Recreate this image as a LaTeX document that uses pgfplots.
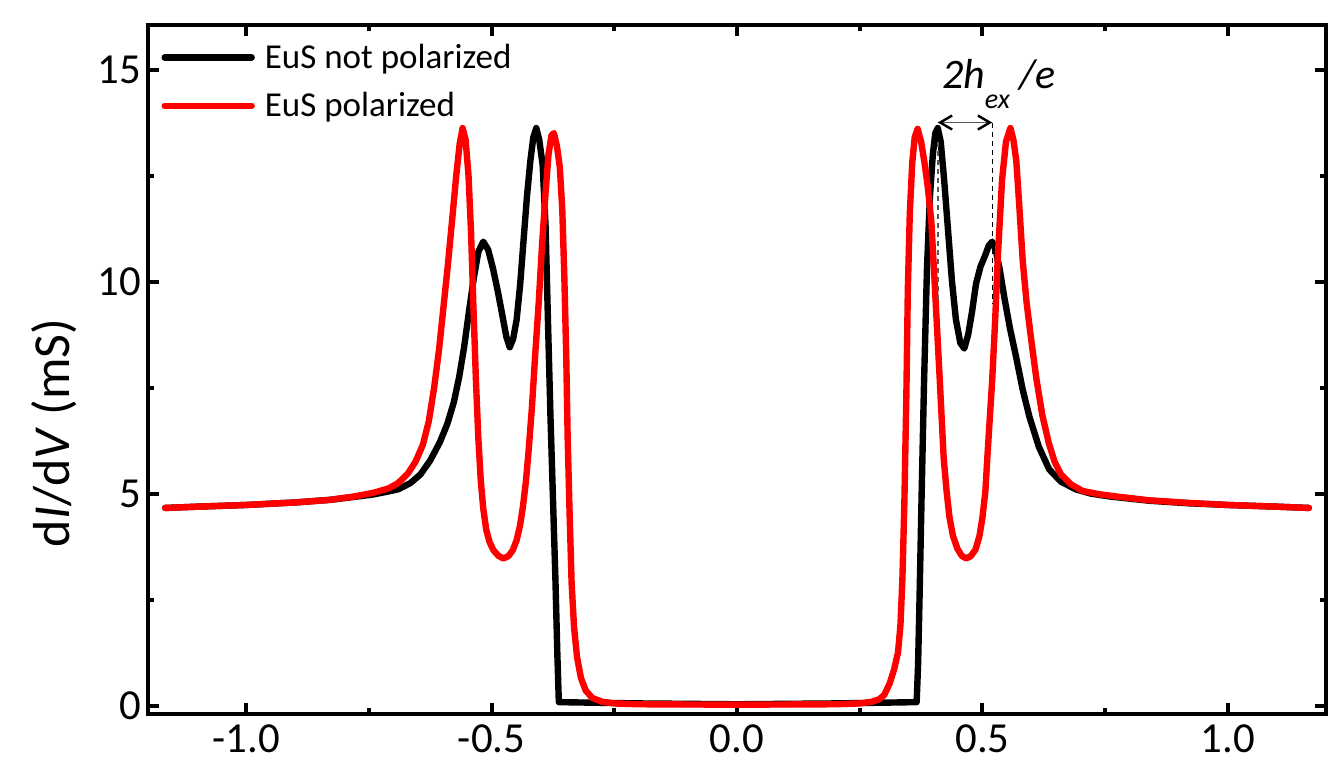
\documentclass[border=0pt]{standalone}
\usepackage{fontspec}
\setmainfont{Carlito}
\usepackage{pgfplots}
\pgfplotsset{compat=1.18}
\usetikzlibrary{arrows.meta}

% dI/dV curves
\pgfplotstableread{
x y
-1.165 4.66
-1.10 4.69
-1.00 4.73
-0.90 4.79
-0.83 4.85
-0.78 4.92
-0.74 4.98
-0.71 5.05
-0.69 5.10
-0.665 5.25
-0.645 5.45
-0.625 5.78
-0.605 6.22
-0.59 6.65
-0.577 7.15
-0.566 7.75
-0.556 8.45
-0.546 9.30
-0.536 10.10
-0.527 10.70
-0.517 10.94
-0.507 10.75
-0.497 10.30
-0.487 9.75
-0.478 9.20
-0.470 8.70
-0.463 8.45
-0.456 8.65
-0.449 9.10
-0.442 9.90
-0.435 10.95
-0.428 12.00
-0.421 12.85
-0.415 13.40
-0.409 13.62
-0.403 13.35
-0.396 12.75
-0.390 11.30
-0.385 9.00
-0.380 6.80
-0.375 4.90
-0.370 3.00
-0.366 1.20
-0.363 0.08
-0.20 0.05
0.00 0.03
0.20 0.05
0.366 0.08
0.369 1.00
0.372 2.60
0.376 4.90
0.381 7.60
0.387 10.30
0.393 12.00
0.399 13.00
0.404 13.50
0.409 13.62
0.415 13.30
0.422 12.40
0.430 11.20
0.438 10.00
0.446 9.10
0.455 8.55
0.463 8.42
0.471 8.75
0.479 9.30
0.487 9.95
0.496 10.35
0.505 10.60
0.513 10.85
0.520 10.94
0.527 10.75
0.535 10.30
0.545 9.60
0.556 8.90
0.569 8.20
0.582 7.45
0.596 6.80
0.615 6.10
0.636 5.57
0.66 5.28
0.69 5.10
0.72 5.00
0.76 4.93
0.84 4.83
0.92 4.77
1.00 4.73
1.10 4.69
1.165 4.66
}\notpol

\pgfplotstableread{
x y
-1.165 4.66
-1.10 4.69
-1.00 4.73
-0.90 4.79
-0.83 4.85
-0.78 4.93
-0.74 5.02
-0.71 5.12
-0.69 5.25
-0.67 5.48
-0.655 5.75
-0.64 6.15
-0.628 6.70
-0.617 7.50
-0.607 8.40
-0.598 9.40
-0.589 10.40
-0.580 11.50
-0.572 12.50
-0.565 13.25
-0.559 13.62
-0.553 13.35
-0.547 12.50
-0.542 11.20
-0.537 9.40
-0.532 7.70
-0.527 6.30
-0.522 5.30
-0.517 4.65
-0.511 4.15
-0.504 3.85
-0.496 3.66
-0.486 3.53
-0.476 3.47
-0.466 3.52
-0.457 3.66
-0.449 3.90
-0.442 4.25
-0.436 4.70
-0.430 5.30
-0.425 5.95
-0.418 7.00
-0.411 8.30
-0.404 9.50
-0.397 10.90
-0.390 12.10
-0.384 13.00
-0.378 13.45
-0.373 13.50
-0.367 13.20
-0.361 12.70
-0.356 11.70
-0.352 10.20
-0.348 8.30
-0.345 6.30
-0.341 4.50
-0.337 2.90
-0.332 1.85
-0.326 1.15
-0.318 0.65
-0.308 0.35
-0.295 0.18
-0.275 0.09
-0.25 0.05
-0.20 0.03
0.00 0.02
0.20 0.03
0.25 0.05
0.275 0.09
0.29 0.15
0.30 0.25
0.311 0.52
0.320 0.85
0.328 1.25
0.333 1.90
0.337 3.00
0.341 4.80
0.345 7.30
0.348 9.80
0.352 11.60
0.357 12.80
0.362 13.40
0.368 13.60
0.375 13.30
0.382 12.80
0.389 12.20
0.396 11.40
0.403 9.90
0.408 8.80
0.413 7.70
0.421 5.85
0.427 5.05
0.433 4.43
0.440 4.00
0.449 3.70
0.458 3.53
0.467 3.47
0.476 3.52
0.486 3.68
0.494 4.00
0.500 4.43
0.506 5.05
0.510 5.85
0.520 7.70
0.526 9.10
0.531 10.50
0.540 12.40
0.548 13.30
0.557 13.62
0.563 13.35
0.569 12.85
0.575 11.80
0.582 10.50
0.590 9.50
0.599 8.66
0.610 7.70
0.622 6.85
0.635 6.20
0.647 5.75
0.660 5.45
0.68 5.22
0.704 5.06
0.74 4.98
0.78 4.92
0.84 4.84
0.92 4.78
1.00 4.73
1.10 4.69
1.165 4.66
}\pol

\begin{document}
\begin{tikzpicture}
\begin{axis}[
  scale only axis,
  width=589pt, height=344.5pt,
  xmin=-1.2, xmax=1.2,
  ymin=-0.2, ymax=16.05,
  xtick={-1,-0.5,0,0.5,1},
  xticklabels={-1.0,-0.5,0.0,0.5,1.0},
  ytick={0,5,10,15},
  yticklabels={0,5,10,15},
  minor x tick num=1,
  minor y tick num=1,
  tick align=inside,
  major tick length=5.5pt,
  minor tick length=3pt,
  axis line style={line width=2pt},
  every tick/.style={line width=2pt, black},
  tick label style={font=\fontsize{21.4}{25}\selectfont},
  xticklabel style={yshift=-2pt},
  ylabel={d\textit{I}/d\textit{V} (mS)},
  ylabel style={font=\fontsize{26}{30}\selectfont, at={(axis description cs:-0.0798,0.408)}, anchor=center},
  legend style={at={(axis description cs:0.006,0.982)}, anchor=north west, draw=none, fill=none,
    font=\fontsize{17.5}{21}\selectfont, row sep=8.5pt,
    nodes={inner sep=1pt},
    /tikz/every odd column/.append style={column sep=4pt}},
  legend cell align=left,
  legend image code/.code={\draw[#1] (0pt,0pt) -- (43.5pt,0pt);},
  every axis plot/.append style={line width=3.2pt, line join=round, line cap=round},
]
\addplot[black] table {\notpol};
\addlegendentry{EuS not polarized}
\addplot[red] table {\pol};
\addlegendentry{EuS polarized}

\draw[gray!70!black, line width=0.75pt, dash pattern=on 2.5pt off 2pt] (axis cs:0.409,13.3) -- (axis cs:0.409,9.5);
\draw[black, line width=0.75pt, dash pattern=on 2.5pt off 2pt] (axis cs:0.52,13.75) -- (axis cs:0.52,9.5);
\draw[gray!70!black, line width=0.9pt, {Straight Barb[length=6pt,width=7pt,line width=1.2pt,black]}-{Straight Barb[length=6pt,width=7pt,line width=1.2pt,black]}]
  (axis cs:0.409,13.75) -- (axis cs:0.52,13.75);
\node[anchor=base west, inner sep=0pt, font=\fontsize{21}{25}\selectfont\itshape]
  at (axis cs:0.417,14.55) {2h\raisebox{-10pt}{\fontsize{14}{14}\selectfont ex}\hspace{5pt}/e};

\coordinate (sw) at (rel axis cs:0,0);
\coordinate (ne) at (rel axis cs:1,1);
\end{axis}
\pgfresetboundingbox
\path ([shift={(-74pt,-30pt)}]sw) rectangle ([shift={(2pt,12.5pt)}]ne);
\end{tikzpicture}
\end{document}
